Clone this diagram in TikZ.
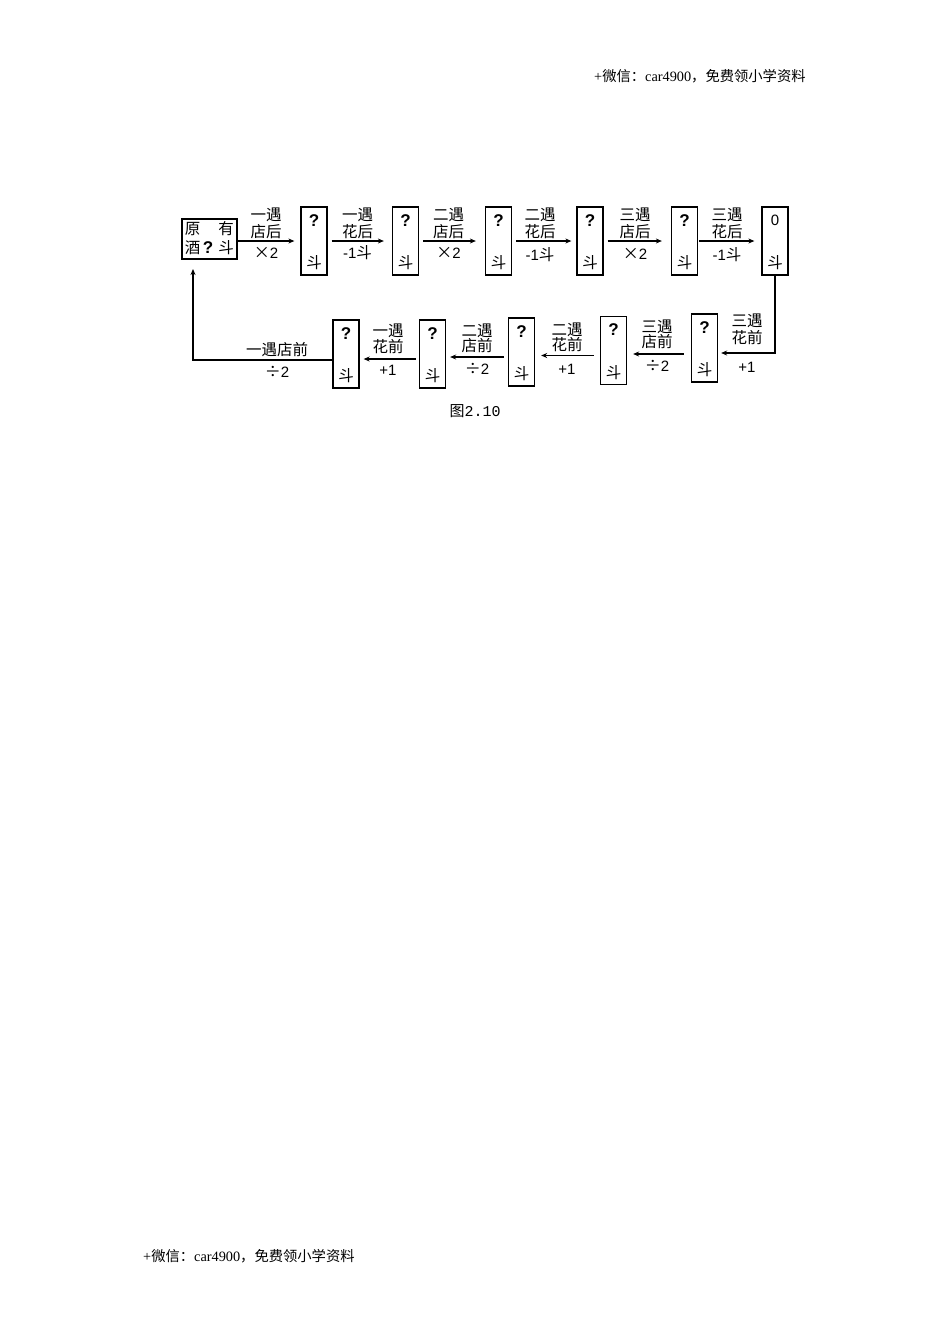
\documentclass[tikz,border=0pt]{standalone}
\usepackage{fontspec}
\setmainfont{Liberation Serif}
\newfontfamily\cjk{Noto Sans CJK SC}
\newfontfamily\lsans{Liberation Sans}
\newfontfamily\lmono{Liberation Mono}
\usetikzlibrary{arrows.meta}
\tikzset{
 qb/.style={draw, line width=1.3pt, minimum width=26pt, minimum height=68pt, inner sep=0pt},
 lab/.style={font=\cjk\fontsize{15.5}{16}\selectfont, inner sep=0pt},
 num/.style={font=\lsans\fontsize{15}{16}\selectfont, inner sep=0pt},
 qm/.style={font=\lsans\bfseries\fontsize{17}{17}\selectfont, inner sep=0pt},
 arr/.style={line width=1.2pt, -{Stealth[length=6pt,width=5pt]}},
 hdr/.style={font=\fontsize{14.3}{16}\selectfont, inner sep=0pt, anchor=west},
}
\newcommand\mkbox[4]{%
 \node[qb] (#1) at (#2,#3) {};
 \node[qm] (#1q) at ([yshift=-14pt]#1.north) {#4};
 \node[lab] (#1d) at ([yshift=13pt]#1.south) {斗};
}
\newcommand\mklab[8]{%
 \node[lab] (#1a) at (#2,#3) {#6};
 \node[lab] (#1b) at (#2,#4) {#7};
 \node[num] (#1c) at (#2,#5) {#8};
}
\newcommand\tms{{\cjk\fontsize{16}{16}\selectfont ×}}
\newcommand\dvd{{\cjk\fontsize{16}{16}\selectfont ÷}}
\newcommand\dou{{\cjk\fontsize{15.5}{16}\selectfont 斗}}
\begin{document}
\begin{tikzpicture}[x=1pt,y=-1pt]
\useasboundingbox (0,0) rectangle (950,1344);
% header / footer
\node[hdr] (hd) at (594,76) {+{\cjk 微信：}car4900{\cjk ，免费领小学资料}};
\node[hdr] (ft) at (143,1256) {+{\cjk 微信：}car4900{\cjk ，免费领小学资料}};
% first box
\node[draw, line width=1.3pt, minimum width=55pt, minimum height=40pt, inner sep=0pt] (b1) at (209.5,239) {};
\node[lab] (b1a) at (192.5,229) {原};
\node[lab] (b1b) at (226,229) {有};
\node[lab] (b1c) at (192.5,247.5) {酒};
\node[qm] (b1d) at (208,247.5) {?};
\node[lab] (b1e) at (226,247.5) {斗};
% top row boxes
\mkbox{b2}{314}{241}{?}
\mkbox{b3}{405.5}{241}{?}
\mkbox{b4}{498.5}{241}{?}
\mkbox{b5}{590}{241}{?}
\mkbox{b6}{684.5}{241}{?}
\node[qb] (b7) at (775,241) {};
\node[num] (b7q) at ([yshift=-14pt]b7.north) {0};
\node[lab] (b7d) at ([yshift=13pt]b7.south) {斗};
% bottom row boxes
\mkbox{b8}{704.5}{348}{?}
\mkbox{b9}{613.5}{350.5}{?}
\mkbox{b10}{521.5}{352}{?}
\mkbox{b11}{432.5}{354}{?}
\mkbox{b12}{346}{354}{?}
% top arrows
\draw[arr, shorten >=6pt] (b1.east |- 0,241) -- (b2.west);
\draw[arr, shorten <=4pt, shorten >=8pt] (b2.east) -- (b3.west);
\draw[arr, shorten <=4pt, shorten >=9pt] (b3.east) -- (b4.west);
\draw[arr, shorten <=4pt, shorten >=5pt] (b4.east) -- (b5.west);
\draw[arr, shorten <=4pt, shorten >=9pt] (b5.east) -- (b6.west);
\draw[arr, shorten <=1pt, shorten >=7pt] (b6.east) -- (b7.west);
% corner and bottom arrows
\draw[arr, shorten >=3pt] (b7.south) |- ([yshift=-5pt]b8.east);
\draw[arr, shorten <=7pt, shorten >=6pt] ([yshift=-6pt]b8.west) -- ([yshift=-6pt]b8.west -| b9.east);
\draw[arr, shorten <=6pt, shorten >=6pt] ([yshift=-5pt]b9.west) -- ([yshift=-5pt]b9.west -| b10.east);
\draw[arr, shorten <=4pt, shorten >=4pt] ([yshift=-5pt]b10.west) -- ([yshift=-5pt]b10.west -| b11.east);
\draw[arr, shorten <=3pt, shorten >=4pt] ([yshift=-5pt]b11.west) -- ([yshift=-5pt]b11.west -| b12.east);
\coordinate (loopend) at (193,269);
\draw[arr] ([yshift=-6pt]b12.west) -| (loopend);
% top labels
\mklab{t1}{266}{215}{232}{253}{一遇}{店后}{\tms 2}
\mklab{t2}{357.5}{215}{232}{253}{一遇}{花后}{-1\dou}
\mklab{t3}{448.5}{215}{232}{253}{二遇}{店后}{\tms 2}
\mklab{t4}{540}{215}{232}{255}{二遇}{花后}{-1\dou}
\mklab{t5}{635}{215}{232}{254}{三遇}{店后}{\tms 2}
\mklab{t6}{727}{215}{232}{255}{三遇}{花后}{-1\dou}
% bottom labels
\mklab{u1}{747}{321}{338}{367}{三遇}{花前}{+1}
\mklab{u2}{657}{327}{342}{366}{三遇}{店前}{\dvd 2}
\mklab{u3}{567}{330}{345}{369}{二遇}{花前}{+1}
\mklab{u4}{477}{331}{346}{369}{二遇}{店前}{\dvd 2}
\mklab{u5}{388}{331}{347}{370}{一遇}{花前}{+1}
\node[lab] (u6a) at (277,350) {一遇店前};
\node[num] (u6c) at (277,372) {\dvd 2};
% caption
\node[inner sep=0pt, font=\fontsize{15}{16}\selectfont] (cap) at (475,411) {{\cjk 图}{\lmono 2.10}};
\end{tikzpicture}
\end{document}
